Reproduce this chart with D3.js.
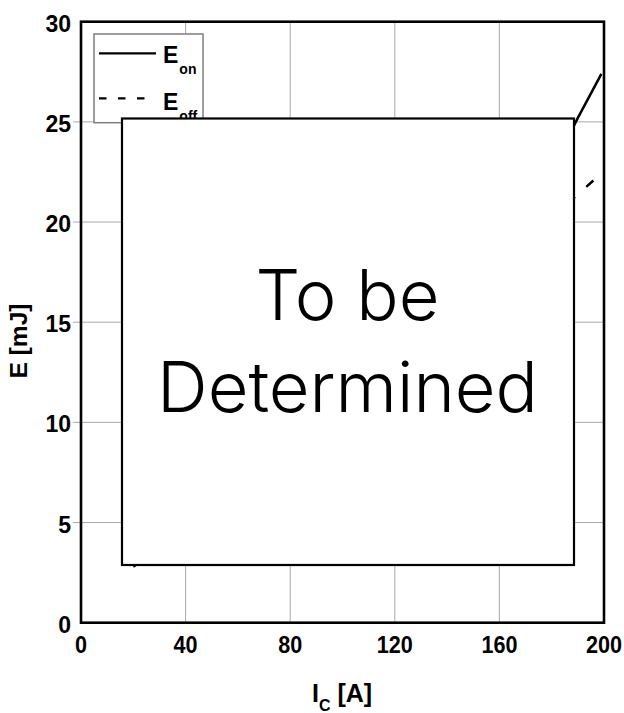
<!DOCTYPE html>
<html>
  <head>
    <meta charset="utf-8">
    <title>E vs Ic</title>
    <script src="https://cdnjs.cloudflare.com/ajax/libs/d3/7.8.5/d3.min.js"></script>
    <style>
      body { margin: 0; background: #fff; }
      text { font-family: "Liberation Sans", Arial, sans-serif; font-weight: bold; }
    </style>
  </head>
  <body>
    <script>
      // values
      var currents = [20, 40, 60, 80, 100, 120, 140, 160, 180, 190, 199];
      var eon      = [2.8, 4.6, 6.5, 8.5, 10.7, 13.1, 15.8, 18.9, 22.6, 25.2, 27.4];
      var eoff     = [3.5, 5.6, 7.7, 9.8, 11.9, 13.9, 15.9, 17.9, 20.23, 21.38, 22.43];
      var xTicks = [0, 40, 80, 120, 160, 200];
      var yTicks = [0, 5, 10, 15, 20, 25, 30];

      var svg = d3.select("body").append("svg")
        .attr("width", 624)
        .attr("height", 713);

      var x = d3.scaleLinear().domain([0, 200]).range([81, 604]);
      var y = d3.scaleLinear().domain([0, 30]).range([622.7, 21.7]);

      // grid
      svg.selectAll("line.vgrid").data(xTicks.slice(1, -1)).enter().append("line")
        .attr("x1", function (d) { return x(d); })
        .attr("x2", function (d) { return x(d); })
        .attr("y1", y(0)).attr("y2", y(30))
        .attr("stroke", "#a8a8a8").attr("stroke-width", 1);

      svg.selectAll("line.hgrid").data(yTicks.slice(1, -1)).enter().append("line")
        .attr("x1", x(0) - 8).attr("x2", x(200))
        .attr("y1", function (d) { return y(d); })
        .attr("y2", function (d) { return y(d); })
        .attr("stroke", "#a8a8a8").attr("stroke-width", 1);

      // tick labels
      svg.selectAll("text.xt").data(xTicks).enter().append("text")
        .attr("transform", function (d) { return "translate(" + x(d) + ",653.3) scale(0.9,1)"; })
        .attr("text-anchor", "middle")
        .style("font-size", "24px")
        .text(function (d) { return d; });

      svg.selectAll("text.yt").data(yTicks).enter().append("text")
        .attr("x", 71)
        .attr("y", function (d) { return y(d) + 10; })
        .attr("text-anchor", "end")
        .style("font-size", "23px")
        .text(function (d) { return d; });

      // axis titles
      var xl = svg.append("text").attr("x", 312).attr("y", 701.7).style("font-size", "25px");
      xl.append("tspan").text("I");
      xl.append("tspan").attr("dy", 9).style("font-size", "16px").text("C");
      xl.append("tspan").attr("dy", -9).text(" [A]");

      svg.append("text")
        .attr("transform", "translate(27,341) rotate(-90)")
        .attr("text-anchor", "middle")
        .style("font-size", "24.5px")
        .text("E [mJ]");

      // curves
      var line = d3.line()
        .x(function (d) { return x(d[0]); })
        .y(function (d) { return y(d[1]); });

      var onPts = currents.map(function (c, i) { return [c, eon[i]]; });
      var offPts = currents.map(function (c, i) { return [c, eoff[i]]; }).reverse();

      svg.append("path").attr("d", line(onPts))
        .attr("fill", "none").attr("stroke", "#000").attr("stroke-width", 2.5);

      svg.append("path").attr("d", line(offPts))
        .attr("fill", "none").attr("stroke", "#000").attr("stroke-width", 2.5)
        .attr("stroke-dasharray", "9.6,15").attr("stroke-dashoffset", 13.9);

      // legend
      svg.append("rect")
        .attr("x", 94).attr("y", 34).attr("width", 109).attr("height", 88.7)
        .attr("fill", "#fff").attr("stroke", "#7f7f7f").attr("stroke-width", 1.5);
      svg.append("line").attr("x1", 99).attr("x2", 156).attr("y1", 53.3).attr("y2", 53.3)
        .attr("stroke", "#000").attr("stroke-width", 2.2);
      svg.append("line").attr("x1", 99).attr("x2", 156).attr("y1", 98.3).attr("y2", 98.3)
        .attr("stroke", "#000").attr("stroke-width", 2.2).attr("stroke-dasharray", "7.5,11.5");

      var l1 = svg.append("text").attr("x", 163).attr("y", 63.3).style("font-size", "23px");
      l1.append("tspan").text("E");
      l1.append("tspan").attr("dy", 10.7).attr("dx", 1).style("font-size", "14px").text("on");
      var l2 = svg.append("text").attr("x", 163).attr("y", 110).style("font-size", "23px");
      l2.append("tspan").text("E");
      l2.append("tspan").attr("dy", 11).attr("dx", 1).style("font-size", "14px").text("off");

      // frame
      svg.append("rect")
        .attr("x", x(0)).attr("y", y(30))
        .attr("width", x(200) - x(0)).attr("height", y(0) - y(30))
        .attr("fill", "none").attr("stroke", "#000").attr("stroke-width", 2.6);

      // placeholder box
      svg.append("rect")
        .attr("x", 122).attr("y", 118.5).attr("width", 452).attr("height", 446.5)
        .attr("fill", "#fff").attr("stroke", "#000").attr("stroke-width", 2.2);

      var t1 = svg.append("text").attr("x", 347.5).attr("y", 320)
        .attr("text-anchor", "middle")
        .style("font-family", "Inter, 'Noto Sans', sans-serif").style("font-weight", 300)
        .style("font-size", "72px").text("To be");
      var t2 = svg.append("text").attr("x", 347.5).attr("y", 411.7)
        .attr("text-anchor", "middle")
        .style("font-family", "Inter, 'Noto Sans', sans-serif").style("font-weight", 300)
        .style("font-size", "72px").text("Determined");
      var fs = 72 * 381 / t2.node().getComputedTextLength();
      t1.style("font-size", fs + "px");
      t2.style("font-size", fs + "px");
    </script>
  </body>
</html>
